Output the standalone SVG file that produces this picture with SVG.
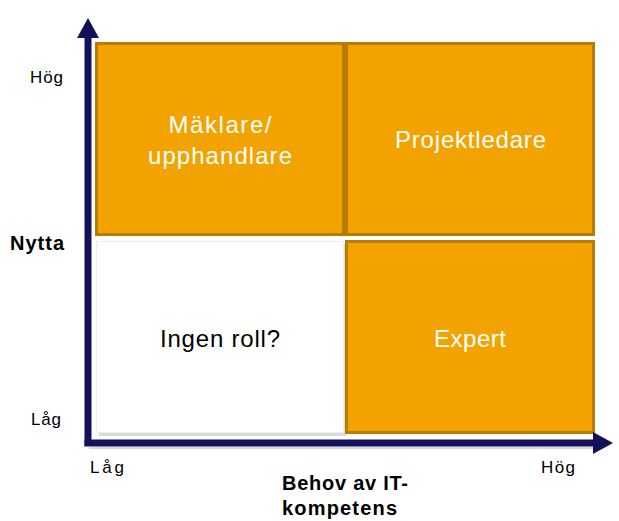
<svg xmlns="http://www.w3.org/2000/svg" width="619" height="521" viewBox="0 0 619 521">
<defs>
<style>
.box{fill:#F2A300;stroke:#B97C02;stroke-width:3}
.wbox{fill:#FFFFFF;stroke:#EEEEEE;stroke-width:1}
.shadow{fill:#DADADA}
.wt{font-family:"Liberation Sans",Arial,sans-serif;font-size:24px;fill:#FFFFFF;text-anchor:middle}
.bt{font-family:"Liberation Sans",Arial,sans-serif;font-size:24px;fill:#000000;text-anchor:middle}
.ax{font-family:"Liberation Sans",Arial,sans-serif;font-size:17px;fill:#000000}
.axb{font-family:"Liberation Sans",Arial,sans-serif;font-size:20px;font-weight:bold;fill:#000000}
.axis{stroke:#15105A;stroke-width:7;fill:none}
</style>
<marker id="arrow" markerUnits="userSpaceOnUse" markerWidth="24" markerHeight="24" refX="4" refY="12" orient="auto">
<path d="M0,1 L20,12 L0,23 Z" fill="#15105A"/>
</marker>
</defs>
<rect width="619" height="521" fill="#FFFFFF"/>

<g id="node-maklare">
<rect class="box" x="96.5" y="43.5" width="247" height="191"/>
<text class="wt" x="220" y="133" textLength="103">Mäklare/</text>
<text class="wt" x="220" y="164" textLength="144">upphandlare</text>
</g>

<g id="node-projektledare">
<rect class="box" x="346.5" y="43.5" width="247" height="191"/>
<text class="wt" x="470.5" y="148" textLength="151">Projektledare</text>
</g>

<g id="node-ingen-roll">
<rect class="shadow" x="99" y="244" width="247" height="192"/>
<rect class="wbox" x="96.5" y="241.5" width="247" height="191"/>
<text class="bt" x="220" y="347" textLength="120">Ingen roll?</text>
</g>

<g id="node-expert">
<rect class="box" x="346.5" y="241.5" width="247" height="191"/>
<text class="wt" x="470" y="347" textLength="72">Expert</text>
</g>

<g id="connectors">
<path d="M89,448 L600,448" stroke="#D8D8D8" stroke-width="2" fill="none"/>
<path class="axis" d="M88,446 L88,34" marker-end="url(#arrow)"/>
<path class="axis" d="M84.5,443 L597,443" marker-end="url(#arrow)"/>
</g>

<g id="labels">
<text class="ax" x="30" y="83" textLength="33">Hög</text>
<text class="ax" x="31" y="425" textLength="30">Låg</text>
<text class="axb" x="10" y="250" textLength="54">Nytta</text>
<text class="ax" x="90" y="473" textLength="34">Låg</text>
<text class="ax" x="541" y="473" textLength="34">Hög</text>
<text class="axb" x="282" y="490" textLength="126">Behov av IT-</text>
<text class="axb" x="282" y="515" textLength="115">kompetens</text>
</g>
</svg>
